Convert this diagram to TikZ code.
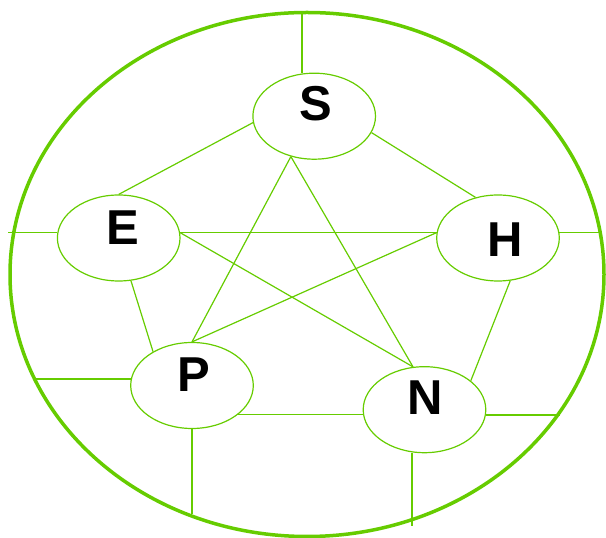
\documentclass[tikz,border=0pt]{standalone}
\usepackage{fontspec}
\setmainfont{Liberation Sans}
\usetikzlibrary{shapes.geometric}
\definecolor{lg}{RGB}{102,204,0}
\begin{document}
\begin{tikzpicture}[x=1pt,y=1pt,
  bubble/.style={ellipse,draw=lg,line width=1.2pt,minimum width=122.6pt,minimum height=86pt,inner sep=0pt},
  lbl/.style={inner sep=0pt,font=\fontsize{49}{49}\selectfont\bfseries},
  conn/.style={draw=lg,line width=1.2pt}]
\useasboundingbox (0,0) rectangle (606,538);
% outer ellipse
\draw[lg,line width=3.5pt] (307,263.5) ellipse [x radius=297, y radius=262];
% bubbles
\node[bubble] (S) at (314.2,421.8) {};
\node[bubble] (E) at (118.7,300) {};
\node[bubble] (H) at (498,300) {};
\node[bubble] (P) at (192,152.5) {};
\node[bubble] (N) at (424.5,128.3) {};
% labels
\node[lbl] (tS) at (315.5,434.2) {S};
\node[lbl] (tE) at (122.5,310.5) {E};
\node[lbl] (tH) at (505.3,298.5) {H};
\node[lbl] (tP) at (193.8,163.5) {P};
\node[lbl] (tN) at (425.3,140) {N};
% free ends on outer ellipse
\coordinate (sT) at (302,526);
\coordinate (eL) at (8,305);
\coordinate (hR) at (602,305);
\coordinate (pL) at (35,159);
\coordinate (nR) at (560,123);
\coordinate (pB) at (192,23.7);
\coordinate (nB) at (412,12);
% spokes to outer ellipse
\draw[conn] (sT) -- (sT |- S.north);
\draw[conn] (E.175) -- (E.175 -| eL);
\draw[conn] (H.5) -- (H.5 -| hR);
\draw[conn] (P.174) -- (P.174 -| pL);
\draw[conn] (N.-5) -- (N.-5 -| nR);
\draw[conn] (P.south) -- (pB);
\draw[conn] (nB) -- (nB |- N.south);
% pentagon
\draw[conn] (S.186) -- (E.north);
\draw[conn] (S.-16.5) -- (H.119.6);
\draw[conn] (E.-74) -- (P.139);
\draw[conn] (H.-74) -- (N.32);
\draw[conn] (P.-32) -- (P.-32 -| N.west);
% star
\draw[conn] (E.5) -- (H.175);
\draw[conn] (E.5) -- (N.105);
\draw[conn] (H.175) -- (P.north);
\draw[conn] (S.-120) -- (P.north);
\draw[conn] (S.-120) -- (N.105);
\end{tikzpicture}
\end{document}
